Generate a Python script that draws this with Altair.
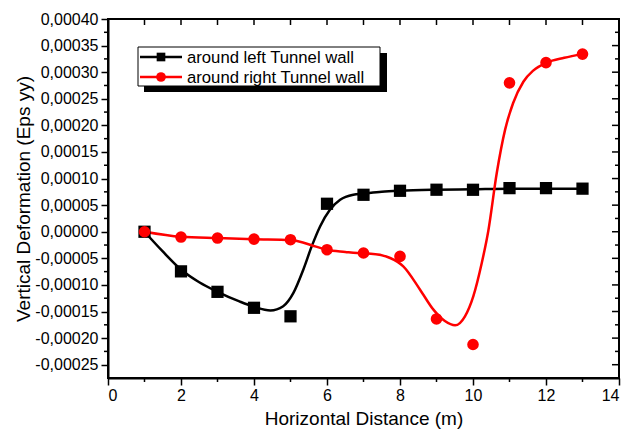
import altair as alt
import pandas as pd

# ---- data points ----
x_pts = [1, 2, 3, 4, 5, 6, 7, 8, 9, 10, 11, 12, 13]
left_wall = [0.0, -0.0000745, -0.000113, -0.000143, -0.000159, 0.0000526, 0.0000695,
             0.000077, 0.000079, 0.0000789, 0.000082, 0.000082, 0.000081]
right_wall = [0.0, -0.00001, -0.0000118, -0.0000138, -0.000015, -0.0000338, -0.00004,
              -0.0000464, -0.000164, -0.000212, 0.00028, 0.000318, 0.000334]

# ---- smoothed curves (as drawn in the picture) ----
left_curve_x = [1, 1.5, 2, 2.5, 3, 3.6, 4.0, 4.45, 4.8, 5.08, 5.35, 5.58, 5.81, 6.08,
                6.36, 6.72, 7.0, 7.5, 8, 9, 10, 11, 12, 13]
left_curve_y = [0.0, -0.000037, -0.000071, -0.000095, -0.000113, -0.000131, -0.000141,
                -0.000148, -0.00014, -0.000115, -0.0000714, -0.0000276, 0.00001, 0.0000413,
                0.00006, 0.0000695, 0.0000715, 0.000075, 0.000077, 0.000079, 0.00008,
                0.000081, 0.000081, 0.000081]
right_curve_x = [1, 2, 3, 4, 5, 5.7, 6, 6.5, 7, 7.2, 7.73, 8.09, 8.55, 8.91, 9.23, 9.51,
                 9.78, 10.01, 10.24, 10.42, 10.65, 10.88, 11.1, 11.38, 11.65, 12.02, 12.5, 13]
right_curve_y = [0.0, -0.0000095, -0.000012, -0.000014, -0.0000155, -0.000028, -0.000034,
                 -0.000038, -0.000041, -0.0000413, -0.0000494, -0.0000651, -0.000109,
                 -0.000146, -0.000168, -0.000176, -0.000159, -0.000121, -0.0000588,
                 0.000002, 0.00011, 0.000192, 0.000242, 0.000282, 0.000303, 0.000318,
                 0.000327, 0.000334]

series_names = ["around left Tunnel wall", "around right Tunnel wall"]
series_colors = ["#000000", "#ff0000"]

# ---- axis ticks ----
x_major = [0, 2, 4, 6, 8, 10, 12, 14]
x_minor = [1, 3, 5, 7, 9, 11, 13]
x_top = [1, 2, 3, 4, 5, 6, 7, 8, 9, 10, 11, 12, 13]
y_major = [-0.00025, -0.0002, -0.00015, -0.0001, -0.00005, 0.0, 0.00005, 0.0001,
           0.00015, 0.0002, 0.00025, 0.0003, 0.00035, 0.0004]
y_minor = [-0.000225, -0.000175, -0.000125, -0.000075, -0.000025, 0.000025, 0.000075,
           0.000125, 0.000175, 0.000225, 0.000275, 0.000325, 0.000375]

W, H = 511, 359
FONT = "Liberation Sans"

xs = alt.Scale(domain=[0, 14], nice=False)
ys = alt.Scale(domain=[-0.000275, 0.0004], nice=False)

pts_l = pd.DataFrame({"x": x_pts, "y": left_wall})
pts_r = pd.DataFrame({"x": x_pts, "y": right_wall})
cur_l = pd.DataFrame({"x": left_curve_x, "y": left_curve_y})
cur_r = pd.DataFrame({"x": right_curve_x, "y": right_curve_y})

y_label_expr = "(datum.value < 0 ? '-' : '') + replace(format(abs(datum.value), '.5f'), '.', ',')"

x_axis = alt.Axis(
    values=x_major, title="Horizontal Distance (m)", format="d",
    tickSize=7, tickWidth=1.5, tickColor="black", domainColor="black", domainWidth=2,
    labelFontSize=16, labelFont=FONT, labelColor="black", labelPadding=2,
    titleFontSize=19, titleFont=FONT, titleFontWeight="normal", titleColor="black",
    titlePadding=6, grid=False, labelOverlap=False)
y_axis = alt.Axis(
    values=y_major, title="Vertical Deformation (Eps yy)", labelExpr=y_label_expr,
    tickSize=7, tickWidth=1.5, tickColor="black", domainColor="black", domainWidth=2,
    labelFontSize=16, labelFont=FONT, labelColor="black", labelPadding=3,
    titleFontSize=19, titleFont=FONT, titleFontWeight="normal", titleColor="black",
    titlePadding=1, grid=False, labelOverlap=False, labelBound=False, labelFlush=False)

X = alt.X("x:Q", scale=xs, axis=x_axis)
Y = alt.Y("y:Q", scale=ys, axis=y_axis)

curve_l = alt.Chart(cur_l).mark_line(interpolate="monotone", color=series_colors[0],
                                     strokeWidth=2.5).encode(x=X, y=Y)
curve_r = alt.Chart(cur_r).mark_line(interpolate="monotone", color=series_colors[1],
                                     strokeWidth=2.5).encode(x=X, y=Y)
points_l = alt.Chart(pts_l).mark_point(shape="square", filled=True, size=150, opacity=1,
                                       color=series_colors[0]).encode(x=X, y=Y)
points_r = alt.Chart(pts_r).mark_circle(size=135, opacity=1,
                                        color=series_colors[1]).encode(x=X, y=Y)

# minor / mirror ticks
left_minor = alt.Chart(pd.DataFrame({"y": y_minor})).mark_rule(
    color="black", strokeWidth=1.5).encode(y=Y, x=alt.value(-4), x2=alt.value(0))
right_ticks_major = alt.Chart(pd.DataFrame({"y": y_major[:-1]})).mark_rule(
    color="black", strokeWidth=1.5).encode(y=Y, x=alt.value(W - 7), x2=alt.value(W))
right_ticks_minor = alt.Chart(pd.DataFrame({"y": y_minor})).mark_rule(
    color="black", strokeWidth=1.5).encode(y=Y, x=alt.value(W - 4), x2=alt.value(W))
bottom_minor = alt.Chart(pd.DataFrame({"x": x_minor})).mark_rule(
    color="black", strokeWidth=1.5).encode(x=X, y=alt.value(H), y2=alt.value(H + 4))
top_ticks = alt.Chart(pd.DataFrame({"x": x_top})).mark_rule(
    color="black", strokeWidth=1.5).encode(x=X, y=alt.value(0), y2=alt.value(6))

# legend (box, shadow, entries)
one = pd.DataFrame({"k": [0]})
shadow = alt.Chart(one).mark_rect(color="black").encode(
    x=alt.value(36), x2=alt.value(279), y=alt.value(34), y2=alt.value(73))
box = alt.Chart(one).mark_rect(fill="white", stroke="black", strokeWidth=1).encode(
    x=alt.value(30), x2=alt.value(272), y=alt.value(28), y2=alt.value(67))
leg = []
row_y = [38, 58]
shapes = ["square", "circle"]
msizes = [75, 95]
for i in range(2):
    leg.append(alt.Chart(one).mark_rule(color=series_colors[i], strokeWidth=2.5).encode(
        x=alt.value(32), x2=alt.value(74), y=alt.value(row_y[i])))
    leg.append(alt.Chart(one).mark_point(shape=shapes[i], filled=True, opacity=1,
                                         size=msizes[i], color=series_colors[i]).encode(
        x=alt.value(53), y=alt.value(row_y[i])))
    leg.append(alt.Chart(pd.DataFrame({"t": [series_names[i]]})).mark_text(
        align="left", baseline="middle", font=FONT, fontSize=16.7, color="black").encode(
        x=alt.value(79), y=alt.value(row_y[i] + 1), text="t:N"))

chart = alt.layer(
    curve_l, curve_r, points_l, points_r,
    left_minor, right_ticks_major, right_ticks_minor, bottom_minor, top_ticks,
    shadow, box, *leg
).properties(
    width=W, height=H,
    autosize=alt.AutoSizeParams(type="none"),
    padding={"left": 108, "top": 19, "right": 8, "bottom": 53},
    background="white",
).configure_view(stroke="black", strokeWidth=2).configure_axis(labelOverlap=False)

chart.save("out.html", embed_options={"renderer": "svg", "actions": False})
